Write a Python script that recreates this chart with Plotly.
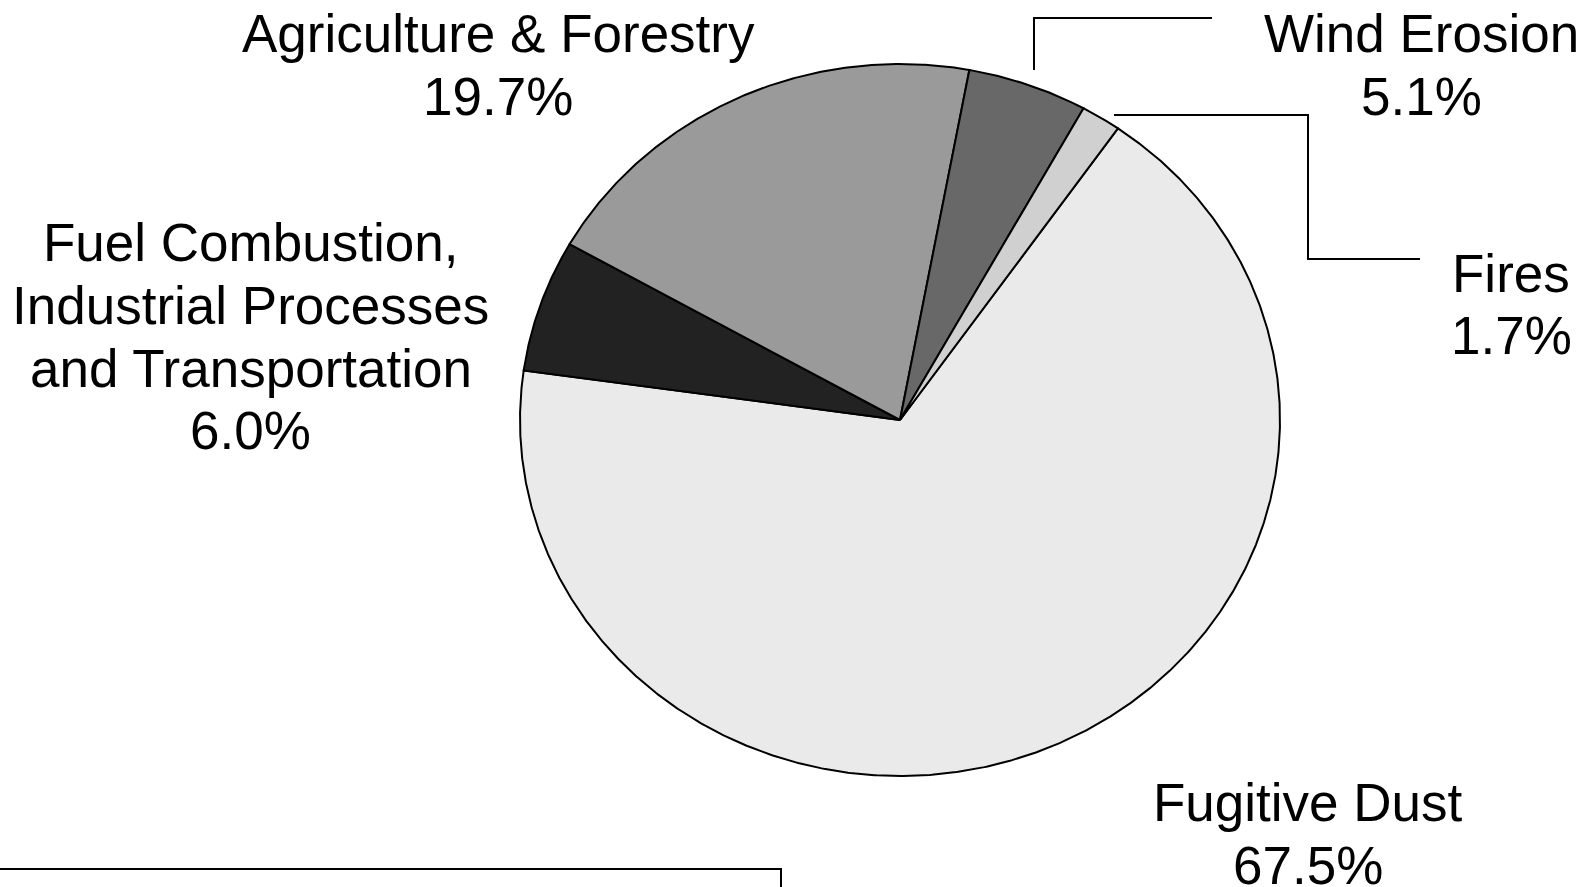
import numpy as np
import plotly.graph_objects as go

# Source shares (percent), listed clockwise from the Fugitive Dust slice
categories = [
    "Fugitive Dust",
    "Fuel Combustion, Industrial Processes and Transportation",
    "Agriculture & Forestry",
    "Wind Erosion",
    "Fires",
]
label_lines = [
    ["Fugitive Dust"],
    ["Fuel Combustion,", "Industrial Processes", "and Transportation"],
    ["Agriculture & Forestry"],
    ["Wind Erosion"],
    ["Fires"],
]
shares = [67.5, 6.0, 19.7, 5.1, 1.7]
slice_colors = ["#EAEAEA", "#222222", "#9A9A9A", "#686868", "#D0D0D0"]

W, H = 1589, 887
FONT = "Liberation Sans, Arial, sans-serif"
FONT_SIZE = 53
LINE_PITCH = 63

# Pie placement on the page (pixels)
CX, CY, RX, RY = 900, 420, 380, 356
START_DEG = 55.0  # angle where the first slice begins, going clockwise
PAD = 1.03

# Label anchor (pixel centre of the first text line) per category
label_pos = [
    (1308, 802),
    (251, 242),
    (498, 34),
    (1421, 34),
    (1511, 273),
]


def paper(x, y):
    return x / W, 1 - y / H


fig = go.Figure()

bounds = START_DEG - 360.0 * np.concatenate([[0.0], np.cumsum(shares)]) / 100.0
for name, share, color, a0, a1 in zip(categories, shares, slice_colors, bounds[:-1], bounds[1:]):
    t = np.radians(np.linspace(a0, a1, max(int(abs(a0 - a1) * 3), 8)))
    xs = np.concatenate([[0.0], np.cos(t), [0.0]])
    ys = np.concatenate([[0.0], np.sin(t), [0.0]])
    fig.add_trace(go.Scatter(
        x=xs, y=ys, mode="lines", fill="toself", fillcolor=color,
        line=dict(color="black", width=2), name=name,
        hoverinfo="text", text=f"{name}: {share:.1f}%", showlegend=False,
    ))

# Text labels: name lines followed by the percentage
annotations = []
for lines, share, (lx, ly) in zip(label_lines, shares, label_pos):
    for i, line in enumerate(lines + [f"{share:.1f}%"]):
        px, py = paper(lx, ly + i * LINE_PITCH)
        annotations.append(dict(
            x=px, y=py, xref="paper", yref="paper", text=line, showarrow=False,
            xanchor="center", yanchor="middle",
            font=dict(family=FONT, size=FONT_SIZE, color="black"),
        ))


def poly(points):
    pts = [paper(x, y) for x, y in points]
    return "M " + " L ".join(f"{x:.5f},{y:.5f}" for x, y in pts)


line_style = dict(color="black", width=2)
shapes = [
    # leader for Wind Erosion
    dict(type="path", xref="paper", yref="paper", path=poly([(1034, 70), (1034, 18), (1212, 18)]), line=line_style),
    # leader for Fires
    dict(type="path", xref="paper", yref="paper",
         path=poly([(1114, 115), (1308, 115), (1308, 259), (1420, 259)]), line=line_style),
    # frame edge of the notes box below the chart
    dict(type="path", xref="paper", yref="paper", path=poly([(-5, 869), (781, 869), (781, 895)]), line=line_style),
]

xd = ((CX - RX * PAD) / W, (CX + RX * PAD) / W)
yd = ((H - (CY + RY * PAD)) / H, (H - (CY - RY * PAD)) / H)

fig.update_layout(
    width=W, height=H,
    margin=dict(l=0, r=0, t=0, b=0),
    paper_bgcolor="white", plot_bgcolor="white",
    xaxis=dict(domain=list(xd), range=[-PAD, PAD], visible=False, fixedrange=True),
    yaxis=dict(domain=list(yd), range=[-PAD, PAD], visible=False, fixedrange=True),
    annotations=annotations,
    shapes=shapes,
    showlegend=False,
)

fig.write_html("out.html", config={"displayModeBar": False})
